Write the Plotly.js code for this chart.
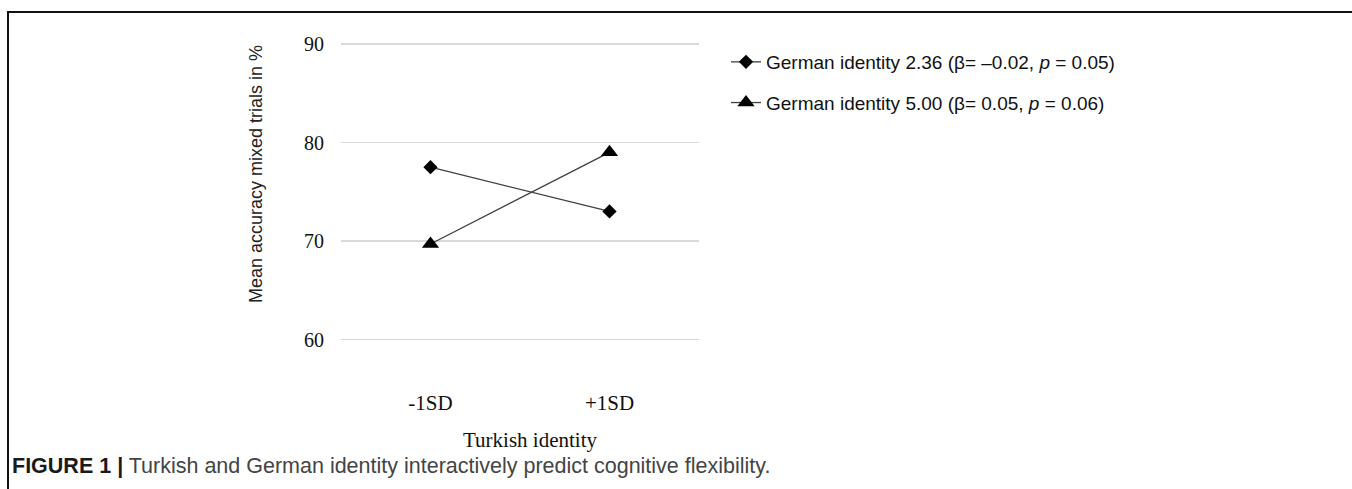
<!DOCTYPE html>
<html>
<head>
<meta charset="utf-8">
<script src="https://cdn.plot.ly/plotly-3.0.1.min.js"></script>
<style>html,body{margin:0;padding:0;background:#fff;} #chart{width:1352px;height:489px;}</style>
</head>
<body>
<div id="chart"></div>
<script>
// Data
const categories = ["-1SD", "+1SD"];
const seriesNames = [
  "German identity 2.36 (β= –0.02, <i>p</i> = 0.05)",
  "German identity 5.00 (β= 0.05, <i>p</i> = 0.06)"
];
const lowGerman = [77.5, 73.0];
const highGerman = [69.7, 79.0];
const yTicks = [60, 70, 80, 90];
const xTitle = "Turkish identity";
const yTitle = "Mean accuracy mixed trials in %";
const captionLabel = "FIGURE 1 |";
const captionText = "Turkish and German identity interactively predict cognitive flexibility.";

const W = 1352, H = 489;
const px = v => v / W;
const py = v => 1 - v / H;

// plot area: value 60 at y=339.5px, 90 at y=44px, padded range so edge gridlines show
const yLo = 59.5, yHi = 90.5;
const pxPerUnit = (339.5 - 44) / 30;
const yBottomPx = 339.5 + (60 - yLo) * pxPerUnit;
const yTopPx = 44 - (yHi - 90) * pxPerUnit;

const traces = [
  {x: categories, y: lowGerman, name: seriesNames[0], type: "scatter", mode: "lines+markers",
   line: {color: "#404040", width: 1.3}, marker: {symbol: "diamond", size: 11, color: "#000"},
   legendgroup: "a"},
  {x: categories, y: highGerman, name: seriesNames[1], type: "scatter", mode: "lines+markers",
   line: {color: "#404040", width: 1.3}, marker: {symbol: "triangle-up", size: 15, color: "#000"},
   legendgroup: "b"}
];

const layout = {
  width: W, height: H,
  margin: {l: 0, r: 0, t: 0, b: 0},
  paper_bgcolor: "#fff", plot_bgcolor: "#fff",
  showlegend: true,
  legend: {x: px(726), y: py(43), xanchor: "left", yanchor: "top", traceorder: "grouped",
           tracegroupgap: 13, itemwidth: 30,
           font: {family: "Liberation Sans, Arial, sans-serif", size: 19, color: "#111"},
           bgcolor: "rgba(0,0,0,0)"},
  xaxis: {domain: [px(341), px(699)], type: "category", range: [-0.5, 1.5],
          showgrid: false, zeroline: false, showline: false, ticks: "",
          ticklabelstandoff: 44,
          tickfont: {family: "Liberation Serif, Times New Roman, serif", size: 21, color: "#111"}},
  yaxis: {domain: [py(yBottomPx), py(yTopPx)], range: [yLo, yHi], tickvals: yTicks,
          showgrid: true, gridcolor: "#d9d9d9", gridwidth: 1.5, zeroline: false, showline: false, ticks: "",
          ticklabelstandoff: 16,
          tickfont: {family: "Liberation Serif, Times New Roman, serif", size: 20, color: "#111"}},
  annotations: [
    {xref: "paper", yref: "paper", x: px(530), y: py(440), text: xTitle, showarrow: false,
     xanchor: "center", yanchor: "middle",
     font: {family: "Liberation Sans, Arial, sans-serif", size: 21, color: "#111", family: "Liberation Serif, Times New Roman, serif"}},
    {xref: "paper", yref: "paper", x: px(256), y: py(174), text: yTitle, showarrow: false,
     textangle: -90, xanchor: "center", yanchor: "middle",
     font: {family: "Liberation Sans, Arial, sans-serif", size: 18, color: "#222"}},
    {xref: "paper", yref: "paper", x: px(10), y: py(466),
     text: `<span style="color:#1a1a1a"><b>${captionLabel}</b></span> ${captionText}`, showarrow: false,
     xanchor: "left", yanchor: "middle",
     font: {family: "Liberation Sans, Arial, sans-serif", size: 21.5, color: "#444"}}
  ],
  shapes: [
    {type: "path", xref: "paper", yref: "paper",
     path: `M ${px(8)} ${py(489)} L ${px(8)} ${py(12)} L ${px(1352)} ${py(12)}`,
     line: {color: "#111", width: 2}}
  ]
};

Plotly.newPlot("chart", traces, layout, {displayModeBar: false, staticPlot: true});
</script>
</body>
</html>
